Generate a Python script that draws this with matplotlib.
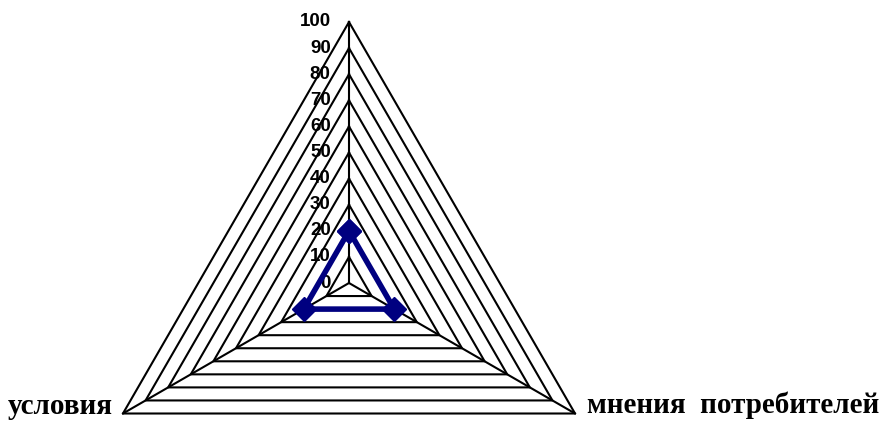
import numpy as np
import matplotlib.pyplot as plt

# categories (clockwise from top, like Excel radar)
categories = ['', 'мнения  потребителей', 'условия']
values = [20, 20, 20]
levels = [10, 20, 30, 40, 50, 60, 70, 80, 90, 100]
tick_labels = ['0', '10', '20', '30', '40', '50', '60', '70', '80', '90', '100']

# angles: top, lower right, lower left
angles = np.deg2rad([90, -30, 210])


def to_xy(r):
    r = np.asarray(r, dtype=float)
    return r * np.cos(angles), r * np.sin(angles)


fig = plt.figure(figsize=(8.82, 4.21), dpi=100)
ax = fig.add_axes([0, 0, 1, 1])
scale = 2.61  # px per unit
ax.set_xlim(-349 / scale, (882 - 349) / scale)
ax.set_ylim(-138 / scale, (421 - 138) / scale)
ax.set_aspect('equal')
ax.axis('off')

# grid triangles
for lv in levels:
    x, y = to_xy([lv] * 3)
    ax.plot(np.append(x, x[0]), np.append(y, y[0]), color='black', lw=1.5, zorder=1)

# spokes
for a in angles:
    ax.plot([0, 100 * np.cos(a)], [0, 100 * np.sin(a)], color='black', lw=1.5, zorder=1)

# value labels
for i, t in enumerate(tick_labels):
    ax.text(-7, i * 10, t, ha='right', va='center', fontsize=13.5,
            fontweight='bold', family='Liberation Sans', zorder=3)

# data
x, y = to_xy(values)
ax.plot(np.append(x, x[0]), np.append(y, y[0]), color='#000080', lw=4,
        marker='D', markersize=12.5, zorder=4)

# category labels
ax.text(100 * np.cos(angles[1]) + 4.5, 100 * np.sin(angles[1]), categories[1],
        ha='left', va='baseline', fontsize=21, fontweight='bold', family='Liberation Serif')
ax.text(100 * np.cos(angles[2]) - 4, 100 * np.sin(angles[2]), categories[2],
        ha='right', va='baseline', fontsize=21, fontweight='bold', family='Liberation Serif')
ax.text(0, 100 + 8, categories[0], ha='center', va='bottom', fontsize=21,
        fontweight='bold', family='Liberation Serif')

fig.savefig('out.png', dpi=100)
